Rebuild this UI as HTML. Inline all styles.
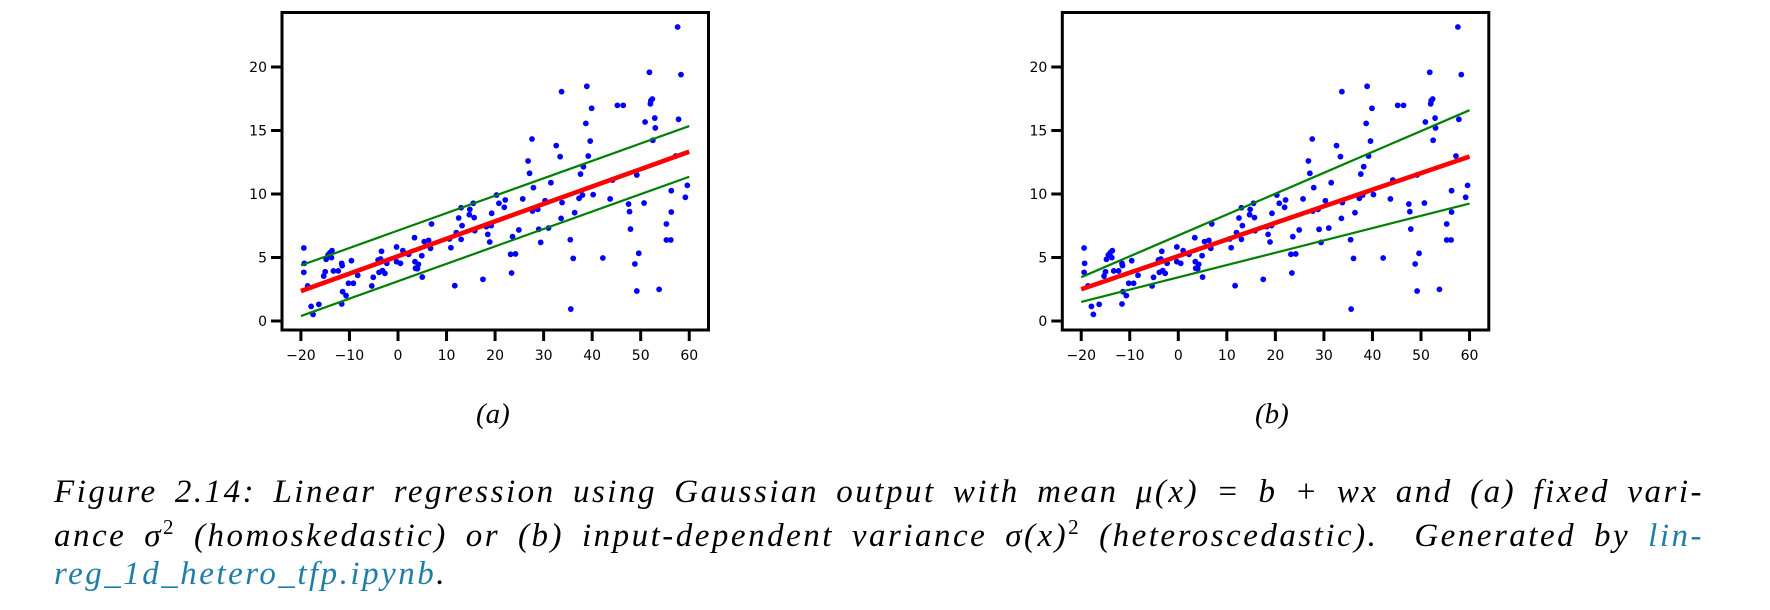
<!DOCTYPE html>
<html><head><meta charset="utf-8">
<style>
html,body{margin:0;padding:0;background:#fff;}
body{width:1770px;height:610px;position:relative;overflow:hidden;}
svg{position:absolute;left:0;top:0;}
.cap{position:absolute;left:54px;width:1650px;font-family:"Liberation Serif",serif;font-style:italic;font-size:33px;letter-spacing:2.5px;color:#000;white-space:nowrap;}
.j{text-align:justify;text-align-last:justify;}
.link{color:#1f7ea8;}
.sub{position:absolute;top:398px;font-family:"Liberation Serif",serif;font-style:italic;font-size:29px;}
</style></head>
<body>
<svg id="chart" width="1770" height="400" xmlns="http://www.w3.org/2000/svg"></svg>
<div class="sub" style="left:476px">(a)</div>
<div class="sub" style="left:1255px">(b)</div>
<div class="cap j" style="top:474px">Figure 2.14: Linear regression using Gaussian output with mean μ(x) = b + wx and (a) fixed vari-</div>
<div class="cap j" style="top:515px">ance σ<sup style="font-size:21px;font-style:normal">2</sup> (homoskedastic) or (b) input-dependent variance σ(x)<sup style="font-size:21px;font-style:normal">2</sup> (heteroscedastic). &nbsp;Generated by <span class="link">lin-</span></div>
<div class="cap" style="top:556px"><span class="link">reg_1d_hetero_tfp.ipynb</span>.</div>
<script>
const xs = [-19.4,-19.3,-19.4,-18.6,-17.9,-17.5,-16.3,-15.3,-15.0,-14.8,-14.4,-14.0,-13.6,-13.7,-13.3,-12.3,-11.6,-11.5,-11.4,-10.7,-11.6,-10.2,-9.6,-9.2,-8.3,-5.4,-5.1,-4.1,-3.4,-3.6,-3.9,-3.2,-2.7,-2.3,-0.3,-0.3,0.5,1.0,2.2,3.4,3.5,3.6,4.0,4.2,5.0,4.9,5.4,6.3,6.7,6.9,10.6,10.9,11.7,12.0,12.5,13.0,13.2,13.0,14.8,14.7,15.5,15.7,15.8,17.5,18.2,18.5,18.9,19.2,19.3,20.3,20.8,21.9,22.1,23.2,23.4,23.6,24.2,24.9,25.7,26.8,27.1,27.6,27.9,27.7,28.8,29.0,29.4,30.3,31.0,31.5,32.6,33.4,33.7,33.8,33.6,35.5,36.1,35.6,36.4,37.3,37.6,38.2,38.0,38.7,38.9,39.2,39.6,39.9,40.2,42.2,43.7,44.2,45.2,46.4,47.5,47.7,47.9,48.8,49.2,49.2,49.6,51.8,52.0,52.1,52.4,52.9,53.0,50.9,52.5,50.7,57.6,58.3,57.8,57.2,56.3,59.6,59.2,56.3,55.3,55.3,56.2,53.8];
const ys = [5.75,4.54,3.83,2.76,1.15,0.52,1.31,3.54,3.88,4.86,5.2,5.38,5.54,4.99,3.94,3.94,4.54,4.36,2.31,2.0,1.34,2.97,4.75,2.97,3.6,2.76,3.44,4.8,5.49,4.88,3.83,3.96,3.75,4.54,5.83,4.67,4.54,5.54,5.25,6.56,4.67,4.15,4.12,4.46,3.46,5.14,6.25,6.35,5.72,7.64,6.46,5.77,2.78,6.96,8.11,8.92,7.51,6.43,8.79,8.37,9.27,8.14,7.11,3.28,7.43,6.82,6.22,7.51,8.48,9.92,9.27,8.95,9.53,5.25,3.78,6.64,5.28,7.17,9.61,12.6,11.63,14.33,10.5,8.66,8.79,7.22,6.19,9.47,7.32,10.89,13.81,12.94,18.06,9.32,8.08,6.4,4.93,0.94,8.53,9.66,11.57,12.15,9.92,15.56,18.48,12.99,14.17,16.75,9.95,4.96,9.61,11.1,16.98,16.98,9.21,8.61,7.24,4.49,11.5,2.36,5.33,19.58,17.1,17.35,17.48,15.98,15.2,15.67,14.23,9.29,23.15,19.4,15.88,12.99,10.26,10.68,9.74,8.58,7.64,6.38,6.38,2.49];
const xTicks = [-20,-10,0,10,20,30,40,50,60];
const xTickLabels = ["\u221220","\u221210","0","10","20","30","40","50","60"];
const yTicks = [0,5,10,15,20];
const yTickLabels = ["0","5","10","15","20"];
const fitX = [-20,60];
const meanA = [2.36,13.33];
const upperA = [4.38,15.35];
const lowerA = [0.39,11.36];
const meanB = [2.5,12.95];
const upperB = [3.45,16.6];
const lowerB = [1.5,9.25];

const NS='http://www.w3.org/2000/svg';
const svg=document.getElementById('chart');
function mk(tag,attrs,parent){const e=document.createElementNS(NS,tag);for(const k in attrs)e.setAttribute(k,attrs[k]);(parent||svg).appendChild(e);return e;}

function panel(dx,name,mean,upper,lower){
  const g=mk('g',{transform:'translate('+dx+',0)'});
  
  
  const sx=v=>398+v*4.854, sy=v=>321-v*12.7;
  const pts=mk('g',{},g);
  
  
  for(let i=0;i<xs.length;i++){
    const c=mk('circle',{cx:sx(xs[i]),cy:sy(ys[i]),r:2.9,fill:'#0000ff'},pts);
    
    
  }
  const up=mk('line',{x1:sx(fitX[0]),y1:sy(upper[0]),x2:sx(fitX[1]),y2:sy(upper[1]),stroke:'#008000','stroke-width':2.2},g);
  
  
  const lo=mk('line',{x1:sx(fitX[0]),y1:sy(lower[0]),x2:sx(fitX[1]),y2:sy(lower[1]),stroke:'#008000','stroke-width':2.2},g);
  
  
  const m=mk('line',{x1:sx(fitX[0]),y1:sy(mean[0]),x2:sx(fitX[1]),y2:sy(mean[1]),stroke:'#ff0000','stroke-width':4.6},g);
  
  
  const box=mk('rect',{x:282,y:12.5,width:426.5,height:317.5,fill:'none',stroke:'#000','stroke-width':3},g);
  
  
  xTicks.forEach((v,i)=>{
    const t=mk('line',{x1:sx(v),y1:331,x2:sx(v),y2:341,stroke:'#000','stroke-width':3},g);
    
    
    const tx=mk('text',{x:sx(v),y:360,'text-anchor':'middle','font-family':'DejaVu Sans, sans-serif','font-size':14},g);
    
    
    tx.textContent=xTickLabels[i];
  });
  yTicks.forEach((v,i)=>{
    const t=mk('line',{x1:271,y1:sy(v),x2:281,y2:sy(v),stroke:'#000','stroke-width':3},g);
    
    
    const tx=mk('text',{x:267,y:sy(v)+5,'text-anchor':'end','font-family':'DejaVu Sans, sans-serif','font-size':14},g);
    
    
    tx.textContent=yTickLabels[i];
  });
}
panel(0,'panel-a-homoskedastic',meanA,upperA,lowerA);
panel(780.3,'panel-b-heteroscedastic',meanB,upperB,lowerB);
</script>
</body></html>
